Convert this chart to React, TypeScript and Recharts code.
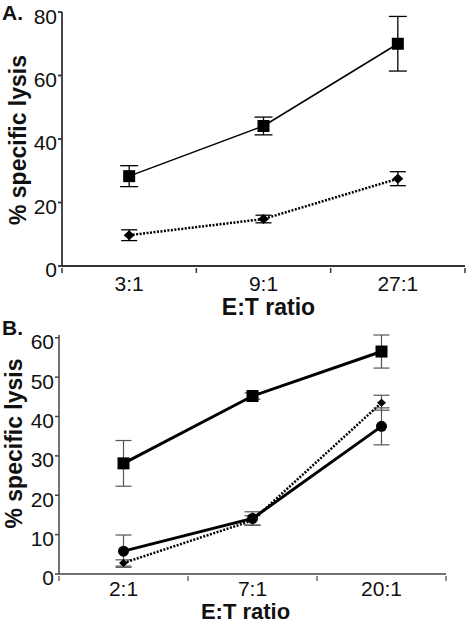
import { LineChart, Line, XAxis, YAxis, ErrorBar } from "recharts";

// panel A
const ratiosA = ["3:1", "9:1", "27:1"];
const squaresA = [28.3, 44.1, 70.0];
const squaresAErr = [3.3, 2.8, 8.6];
const diamondsA = [9.7, 14.8, 27.5];
const diamondsAErr = [1.7, 1.2, 2.2];
const yTicksA = [0, 20, 40, 60, 80];

// panel B
const ratiosB = ["2:1", "7:1", "20:1"];
const squaresB = [28.1, 45.2, 56.5];
const squaresBErr = [5.8, 0.8, 4.2];
const circlesB = [5.8, 14.1, 37.5];
const circlesBErr = [4.1, 1.7, 4.7];
const diamondsB = [2.8, 13.6, 43.5];
const diamondsBErr = [0.8, 1.2, 1.9];
const yTicksB = [0, 10, 20, 30, 40, 50, 60];

const FONT = '"Liberation Sans", Arial, Helvetica, sans-serif';

// categories sit in the middle of slots on a 0..n number axis,
// slot borders get the tick marks
const slotTicks = (n: number) => Array.from({ length: 2 * n + 1 }, (_, i) => i / 2);

const dataA = ratiosA.map((ratio, i) => ({
    ratio,
    pos: i + 0.5,
    sq: squaresA[i],
    sqErr: squaresAErr[i],
    dm: diamondsA[i],
    dmErr: diamondsAErr[i],
}));

const dataB = ratiosB.map((ratio, i) => ({
    ratio,
    pos: i + 0.5,
    sq: squaresB[i],
    sqErr: squaresBErr[i],
    ci: circlesB[i],
    ciErr: circlesBErr[i],
    dm: diamondsB[i],
    dmErr: diamondsBErr[i],
}));

const squareDot = (s: number) => (p: any) => (
    <rect key={`sq-${p.index}`} x={p.cx - s / 2} y={p.cy - s / 2} width={s} height={s} fill="#000" />
);

const diamondDot = (w: number, h: number) => (p: any) => (
    <polygon
        key={`dm-${p.index}`}
        points={`${p.cx},${p.cy - h / 2} ${p.cx + w / 2},${p.cy} ${p.cx},${p.cy + h / 2} ${p.cx - w / 2},${p.cy}`}
        fill="#000"
    />
);

const circleDot = (r: number) => (p: any) => (
    <circle key={`ci-${p.index}`} cx={p.cx} cy={p.cy} r={r} fill="#000" />
);

function makeXTick(labels: string[], textDy: number, stroke: string, sw: number) {
    return (props: any) => {
        const { x, y, payload } = props;
        const v = payload.value;
        if (Number.isInteger(v)) {
            return <line x1={x} x2={x} y1={y} y2={y + 5} stroke={stroke} strokeWidth={sw} />;
        }
        return (
            <text x={x} y={y + textDy} textAnchor="middle" fontSize={21} fill="#111" fontFamily={FONT}>
                {labels[Math.floor(v)]}
            </text>
        );
    };
}

function xTitle(dx: number, dy: number, size: number) {
    return (props: any) => {
        const vb = props.viewBox;
        return (
            <text
                x={vb.x + vb.width / 2 + dx}
                y={vb.y + dy}
                textAnchor="middle"
                fontSize={size}
                fontWeight="bold"
                fill="#111"
                fontFamily={FONT}
            >
                E:T ratio
            </text>
        );
    };
}

function yTitle(cx: number, shift: number) {
    return (props: any) => {
        const vb = props.viewBox;
        const cy = vb.y + vb.height / 2 + shift;
        return (
            <text
                transform={`translate(${cx},${cy}) rotate(-90)`}
                textAnchor="middle"
                dominantBaseline="central"
                fontSize={23}
                fontWeight="bold"
                fill="#111"
                fontFamily={FONT}
            >
                % specific lysis
            </text>
        );
    };
}

function PanelA() {
    const axisStroke = { stroke: "#333", strokeWidth: 1.8 };
    return (
        <LineChart width={466} height={324} data={dataA} margin={{ top: 12, right: 1, bottom: 0, left: 0 }}>
            <XAxis
                dataKey="pos"
                type="number"
                domain={[0, 3]}
                ticks={slotTicks(3)}
                interval={0}
                tickSize={0}
                tickLine={false}
                height={58}
                axisLine={axisStroke}
                tick={makeXTick(ratiosA, 23, "#333", 1.5)}
                label={xTitle(5, 49, 23)}
            />
            <YAxis
                type="number"
                domain={[0, 80]}
                ticks={yTicksA}
                width={62}
                tickSize={4}
                tickMargin={1}
                axisLine={axisStroke}
                tickLine={axisStroke}
                tick={{ fill: "#111", fontSize: 21, fontFamily: FONT, dy: 4 }}
                label={yTitle(18, 1)}
            />
            <Line
                dataKey="dm"
                type="linear"
                stroke="#000"
                strokeWidth={2.5}
                strokeDasharray="2 1.5"
                dot={diamondDot(11, 10)}
                activeDot={false}
                isAnimationActive={false}
            >
                <ErrorBar dataKey="dmErr" direction="y" width={8} stroke="#000" strokeWidth={1.3} />
            </Line>
            <Line
                dataKey="sq"
                type="linear"
                stroke="#000"
                strokeWidth={1.5}
                dot={squareDot(12)}
                activeDot={false}
                isAnimationActive={false}
            >
                <ErrorBar dataKey="sqErr" direction="y" width={9} stroke="#000" strokeWidth={1.3} />
            </Line>
        </LineChart>
    );
}

function PanelB() {
    const axisStroke = { stroke: "#444", strokeWidth: 1.5 };
    return (
        <LineChart width={466} height={308} data={dataB} margin={{ top: 19, right: 20, bottom: 0, left: 0 }}>
            <XAxis
                dataKey="pos"
                type="number"
                domain={[0, 3]}
                ticks={slotTicks(3)}
                interval={0}
                tickSize={0}
                tickLine={false}
                height={50}
                axisLine={axisStroke}
                tick={makeXTick(ratiosB, 20, "#444", 1.2)}
                label={xTitle(-7, 45, 22)}
            />
            <YAxis
                type="number"
                domain={[0, 60]}
                ticks={yTicksB}
                width={59}
                tickSize={4}
                tickMargin={1}
                axisLine={axisStroke}
                tickLine={axisStroke}
                tick={{ fill: "#111", fontSize: 21, fontFamily: FONT, dy: 4 }}
                label={yTitle(14, -11)}
            />
            <Line
                dataKey="sq"
                type="linear"
                stroke="#000"
                strokeWidth={3}
                dot={squareDot(12)}
                activeDot={false}
                isAnimationActive={false}
            >
                <ErrorBar dataKey="sqErr" direction="y" width={8} stroke="#555" strokeWidth={1.2} />
            </Line>
            <Line
                dataKey="dm"
                type="linear"
                stroke="#000"
                strokeWidth={2.5}
                strokeDasharray="2 1.5"
                dot={diamondDot(9, 8)}
                activeDot={false}
                isAnimationActive={false}
            >
                <ErrorBar dataKey="dmErr" direction="y" width={8} stroke="#555" strokeWidth={1.2} />
            </Line>
            <Line
                dataKey="ci"
                type="linear"
                stroke="#000"
                strokeWidth={3}
                dot={circleDot(5.5)}
                activeDot={false}
                isAnimationActive={false}
            >
                <ErrorBar dataKey="ciErr" direction="y" width={8} stroke="#555" strokeWidth={1.2} />
            </Line>
        </LineChart>
    );
}

export default function App() {
    return (
        <div style={{ position: "absolute", left: 0, top: 0, width: 466, height: 624, background: "#fff", fontFamily: FONT }}>
            <div style={{ position: "absolute", left: 0, top: 0 }}>
                <PanelA />
            </div>
            <div style={{ position: "absolute", left: 0, top: 316 }}>
                <PanelB />
            </div>
            <svg width={466} height={624} style={{ position: "absolute", left: 0, top: 0, pointerEvents: "none" }}>
                <text x={2} y={20} fontSize={21} fontWeight="bold" fill="#111" fontFamily={FONT}>
                    A.
                </text>
                <text x={2} y={335} fontSize={21} fontWeight="bold" fill="#111" fontFamily={FONT}>
                    B.
                </text>
            </svg>
        </div>
    );
}
